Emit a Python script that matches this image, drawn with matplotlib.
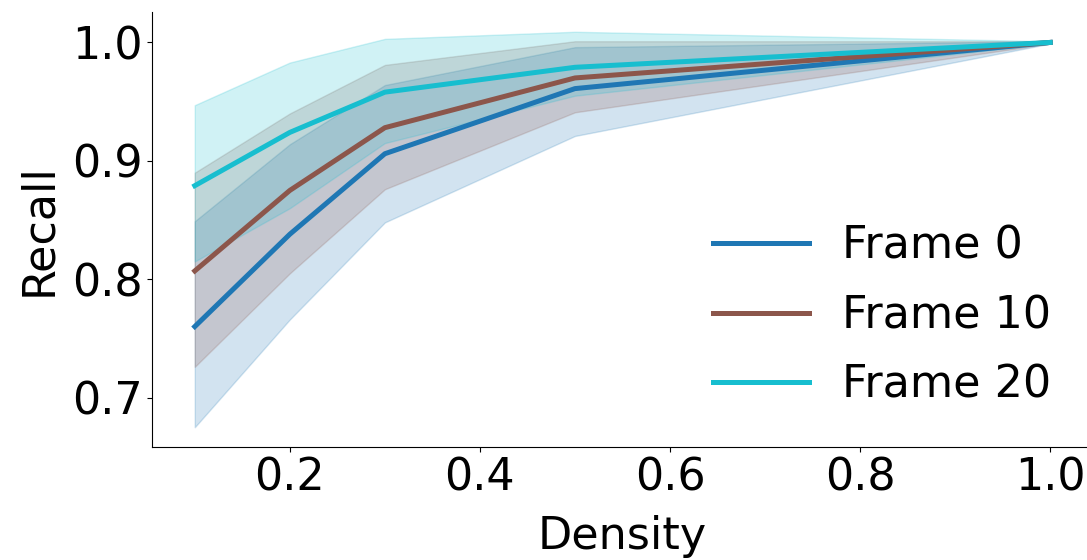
import matplotlib
matplotlib.use("Agg")
import matplotlib.pyplot as plt

density = [0.1, 0.2, 0.3, 0.5, 1.0]

frame0_mean = [0.760, 0.838, 0.906, 0.961, 1.0]
frame0_low = [0.675, 0.766, 0.848, 0.921, 0.999]
frame0_high = [0.849, 0.914, 0.964, 0.996, 1.001]

frame10_mean = [0.807, 0.875, 0.928, 0.970, 1.0]
frame10_low = [0.726, 0.805, 0.876, 0.941, 0.999]
frame10_high = [0.890, 0.940, 0.981, 1.001, 1.001]

frame20_mean = [0.879, 0.924, 0.958, 0.979, 1.0]
frame20_low = [0.815, 0.860, 0.915, 0.955, 0.999]
frame20_high = [0.947, 0.983, 1.003, 1.009, 1.001]

labels = ["Frame 0", "Frame 10", "Frame 20"]
colors = ["#1f77b4", "#8c564b", "#17becf"]

fig = plt.figure(figsize=(10.87, 5.6), dpi=100)
ax = fig.add_axes([152 / 1087, 113 / 560, (1093 - 152) / 1087, (447 - 12) / 560])

series = [
    (frame0_mean, frame0_low, frame0_high),
    (frame10_mean, frame10_low, frame10_high),
    (frame20_mean, frame20_low, frame20_high),
]
for (m, lo, hi), lab, c in zip(series, labels, colors):
    ax.fill_between(density, lo, hi, color=c, alpha=0.2)
    ax.plot(density, m, color=c, lw=3.6, label=lab)

ax.set_xticks([0.2, 0.4, 0.6, 0.8, 1.0])
ax.set_yticks([0.7, 0.8, 0.9, 1.0])
ax.tick_params(labelsize=32)
ax.set_xlabel("Density", fontsize=32, labelpad=11)
ax.set_ylabel("Recall", fontsize=32, labelpad=8)
ax.spines["top"].set_visible(False)
ax.spines["right"].set_visible(False)

ax.legend(fontsize=32, frameon=False, loc="lower right",
          bbox_to_anchor=(0.998, 0.0), handlelength=2.15,
          handletextpad=0.75, labelspacing=0.6)

fig.savefig("out.png", dpi=100)
